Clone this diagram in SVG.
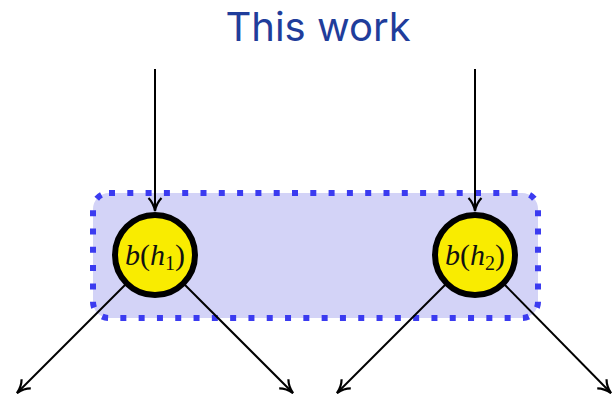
<svg xmlns="http://www.w3.org/2000/svg" width="615" height="397" viewBox="0 0 615 397">
<style>
.title{font-family:Inter,"Liberation Sans",sans-serif;font-size:40px;fill:#1f3d9b}
.lbl{font-family:"Liberation Serif",serif;font-style:italic;font-size:30px;fill:#111}
.par{font-family:"Liberation Serif",serif;font-size:30px;fill:#111}
.sub{font-family:"Liberation Serif",serif;font-size:20px;fill:#111}
.node{fill:#f9ec00;stroke:#000;stroke-width:6}
.edge{stroke:#000;stroke-width:2;fill:none;marker-end:url(#ah)}
</style>
<defs>
<marker id="ah" viewBox="0 0 16 16" refX="15" refY="8" markerWidth="16" markerHeight="16" markerUnits="userSpaceOnUse" orient="auto">
<path d="M2,1.5 Q7,6.5 15,8 Q7,9.5 2,14.5" fill="none" stroke="#000" stroke-width="2.2"/>
</marker>
</defs>
<rect width="615" height="397" fill="#fff"/>
<text class="title" x="318" y="41" text-anchor="middle">This work</text>
<g id="group">
<rect x="93" y="193" width="445" height="125" rx="16" ry="16" fill="#d3d3f7" stroke="#3b3bf0" stroke-width="6" stroke-dasharray="6 12.3"/>
</g>
<g id="connectors">
<line class="edge" x1="155" y1="69" x2="155" y2="211"/>
<line class="edge" x1="475" y1="69" x2="475" y2="211"/>
<line class="edge" x1="125" y1="285" x2="17" y2="393"/>
<line class="edge" x1="185" y1="285" x2="293" y2="393"/>
<line class="edge" x1="445" y1="285" x2="337" y2="393"/>
<line class="edge" x1="505" y1="285" x2="611" y2="393"/>
</g>
<g id="n1">
<circle class="node" cx="155" cy="255" r="40"/>
<text x="155" y="265" text-anchor="middle"><tspan class="lbl">b</tspan><tspan class="par">(</tspan><tspan class="lbl">h</tspan><tspan class="sub" dy="5">1</tspan><tspan class="par" dy="-5">)</tspan></text>
</g>
<g id="n2">
<circle class="node" cx="475" cy="255" r="40"/>
<text x="475" y="265" text-anchor="middle"><tspan class="lbl">b</tspan><tspan class="par">(</tspan><tspan class="lbl">h</tspan><tspan class="sub" dy="5">2</tspan><tspan class="par" dy="-5">)</tspan></text>
</g>
</svg>
